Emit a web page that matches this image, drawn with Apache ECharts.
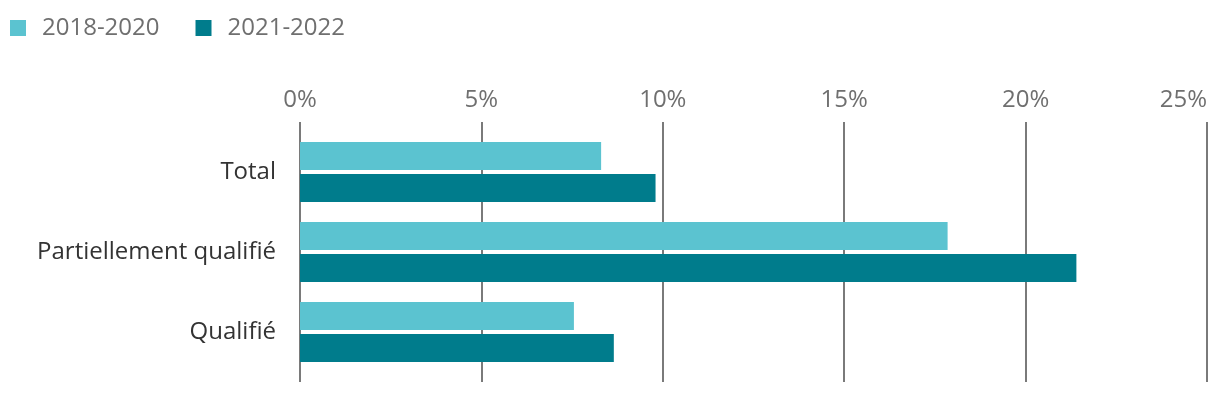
<!DOCTYPE html>
<html><head><meta charset="utf-8">
<script src="https://cdn.jsdelivr.net/npm/echarts@6/dist/echarts.min.js"></script>
<style>html,body{margin:0;padding:0;background:#fff}#c{width:1220px;height:394px}</style>
</head><body><div id="c"></div>
<script>
const categories = ["Total", "Partiellement qualifié", "Qualifié"];
const seriesNames = ["2018-2020", "2021-2022"];
const values2018_2020 = [8.3, 17.85, 7.55];
const values2021_2022 = [9.8, 21.4, 8.65];
const xTicks = [0, 5, 10, 15, 20, 25];

const chart = echarts.init(document.getElementById('c'), null, {renderer: 'canvas'});
const font = '"Open Sans", sans-serif';
chart.setOption({
  animation: false,
  legend: {
    left: 5, top: 11, itemWidth: 16, itemHeight: 16, itemGap: 36,
    icon: 'rect',
    textStyle: {fontFamily: font, fontSize: 24, color: '#6f6f6f', padding: [0, 0, 0, 11]},
    data: seriesNames
  },
  grid: [
    {left: 300, right: 13, top: 122, height: 260, outerBoundsMode: 'none', containLabel: false},
    {left: 300, right: 13, top: 132, height: 240, outerBoundsMode: 'none', containLabel: false}
  ],
  xAxis: [
    {gridIndex: 0, type: 'value', position: 'top', min: xTicks[0], max: xTicks[xTicks.length-1], interval: 5,
     axisLine: {show: false}, axisTick: {show: false},
     axisLabel: {formatter: '{value}%', fontFamily: font, fontSize: 24, color: '#6f6f6f', margin: 10,
                 alignMaxLabel: 'right'},
     splitLine: {show: true, lineStyle: {color: '#7a7a7a', width: 2}}},
    {gridIndex: 1, type: 'value', min: 0, max: 25, show: false}
  ],
  yAxis: [
    {gridIndex: 0, type: 'category', data: categories, show: false},
    {gridIndex: 1, type: 'category', data: categories, inverse: true,
     axisLine: {show: false}, axisTick: {show: false},
     axisLabel: {fontFamily: font, fontSize: 24, color: '#333333', margin: 24}}
  ],
  series: [
    {name: seriesNames[0], type: 'bar', xAxisIndex: 1, yAxisIndex: 1, data: values2018_2020,
     barWidth: 28, barGap: '14.3%', itemStyle: {color: '#5bc3d0'}},
    {name: seriesNames[1], type: 'bar', xAxisIndex: 1, yAxisIndex: 1, data: values2021_2022,
     barWidth: 28, barGap: '14.3%', itemStyle: {color: '#007c8c'}}
  ]
});
</script></body></html>
